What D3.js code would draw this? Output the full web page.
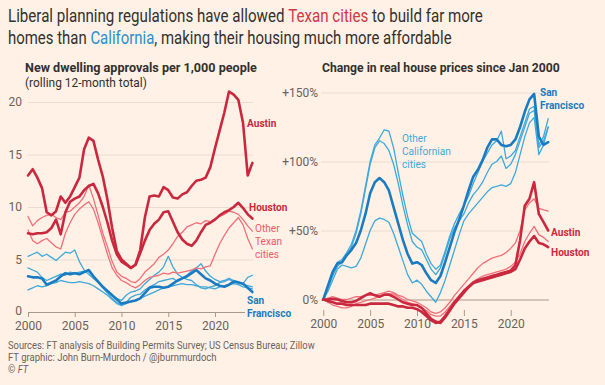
<!DOCTYPE html>
<html lang="en">
<head>
  <meta charset="UTF-8">
  <title>Texas vs California housing</title>
  <script src="https://cdn.jsdelivr.net/npm/d3@7"></script>
  <style>
    body { margin: 0; background: #fff1e5; }
    text { font-family: Roboto, "Liberation Sans", sans-serif; }
    .tick text { fill: #6b625b; font-size: 12px; }
  </style>
</head>
<body>
  <svg></svg>
  <script>
  // half-yearly time points
  var years = [2000, 2000.5, 2001, 2001.5, 2002, 2002.5, 2003, 2003.5, 2004, 2004.5,
    2005, 2005.5, 2006, 2006.5, 2007, 2007.5, 2008, 2008.5, 2009, 2009.5,
    2010, 2010.5, 2011, 2011.5, 2012, 2012.5, 2013, 2013.5, 2014, 2014.5,
    2015, 2015.5, 2016, 2016.5, 2017, 2017.5, 2018, 2018.5, 2019, 2019.5,
    2020, 2020.5, 2021, 2021.5, 2022, 2022.5, 2023, 2023.5, 2024];
  var xTicks = [2000, 2005, 2010, 2015, 2020];
  var permitTicks = [0, 5, 10, 15, 20];
  var priceTicks = [0, 50, 100, 150];

  // new dwelling approvals per 1,000 people
  var austinPermits = [13.0,13.6,12.8,11.8,9.5,9.2,9.6,11.0,10.4,11.0,11.9,12.8,15.5,16.6,16.3,14.5,12.9,10.7,8.0,5.8,5.0,4.6,4.2,4.5,5.9,9.0,11.0,11.1,11.0,11.9,11.6,10.9,10.8,11.2,11.4,12.0,12.5,12.6,12.8,13.8,15.6,17.3,19.0,21.0,20.7,20.2,18.0,13.0,14.2];
  var houstonPermits = [7.5,7.4,7.5,7.5,7.6,8.0,8.8,7.4,9.5,10.5,10.8,11.0,11.6,12.0,12.2,11.3,10.0,8.5,6.8,5.5,4.8,4.5,4.2,4.5,5.6,6.8,7.8,8.4,8.8,9.5,9.6,8.6,7.6,6.9,6.5,6.3,6.8,7.6,8.3,8.5,8.8,9.2,9.5,9.7,10.0,10.4,9.9,9.3,8.9];
  var texasAPermits = [9.1,8.2,8.7,9.0,9.2,9.3,9.0,8.8,9.5,9.6,10.0,10.4,11.0,12.1,10.8,9.2,7.5,6.2,4.8,3.8,3.4,3.2,2.9,2.8,3.2,3.8,4.2,4.6,5.2,5.5,5.9,6.5,7.2,7.6,8.1,8.3,8.5,8.4,8.7,8.6,8.9,9.1,9.3,9.6,9.5,9.3,8.8,8.2,7.7];
  var texasBPermits = [7.8,6.8,6.5,6.8,7.0,6.6,6.2,6.0,7.5,8.5,9.3,9.8,10.2,10.5,9.8,8.5,7.0,5.5,4.2,3.5,3.0,2.8,2.5,2.3,2.6,3.0,3.3,3.4,3.5,3.7,3.6,3.8,3.7,3.8,3.9,4.0,4.2,4.1,4.3,4.4,5.5,6.5,7.3,8.0,8.5,9.0,8.3,7.0,6.0];
  var sfPermits = [3.4,3.3,3.3,3.2,2.6,2.8,3.0,3.4,3.7,3.6,3.7,3.6,3.8,4.0,3.4,2.9,2.4,2.0,1.6,1.2,0.8,0.9,1.0,1.1,1.3,1.8,2.3,2.4,2.4,2.3,2.4,2.7,3.0,3.2,3.4,3.7,4.0,3.6,3.2,3.0,2.7,2.5,2.4,2.6,2.9,2.8,2.7,2.3,1.9];
  var calAPermits = [5.3,5.5,5.7,5.3,5.5,5.2,4.9,5.3,5.7,5.6,5.9,4.8,4.0,3.8,3.4,2.9,2.4,2.0,1.6,1.3,1.1,1.6,1.9,2.0,2.2,2.7,3.1,3.5,3.8,4.3,5.3,4.3,3.6,3.3,3.1,3.0,2.6,2.3,2.2,2.4,2.5,2.8,2.9,3.1,2.9,2.8,2.7,3.3,3.5];
  var calBPermits = [4.2,4.0,3.8,3.3,3.0,3.2,3.4,3.6,3.5,3.8,3.7,3.8,3.9,3.6,3.2,2.8,2.3,1.8,1.3,0.9,0.7,0.9,1.4,1.6,1.7,2.1,2.4,2.6,2.9,3.0,3.1,3.2,2.9,3.2,3.5,3.9,4.2,4.6,3.9,3.4,3.1,2.9,3.0,3.2,3.0,2.9,2.6,2.5,2.4];
  var calCPermits = [2.1,2.3,2.5,2.4,2.5,2.7,2.8,3.0,2.9,2.8,2.8,2.9,2.8,2.7,2.5,2.2,1.9,1.6,1.2,0.8,0.6,0.8,1.0,1.1,1.3,1.5,1.7,1.9,2.1,2.3,2.4,2.5,2.6,2.7,2.6,2.6,2.5,2.4,2.4,2.3,2.2,2.4,2.5,2.6,2.7,2.6,2.4,2.3,2.2];

  // change in real house prices since Jan 2000, %
  var sfPrices = [0,10,20,26,27,32,36,41,50,62,77,85,88,85,79,67,55,43,33,26,27,25,19,14,12,17,27,38,49,58,68,79,89,94,101,110,116,116,112,111,112,116,125,136,145,149,118,112,114];
  var calAPrices = [0,10,20,27,29,34,40,50,64,82,100,112,117,123,122,110,92,75,60,48,45,42,33,26,22,25,35,46,55,62,68,75,84,92,100,106,112,115,122,102,104,108,118,128,138,140,112,118,131];
  var calBPrices = [0,8,17,24,27,32,38,48,62,80,98,110,115,113,108,98,84,68,54,42,38,36,29,22,18,23,33,44,52,57,62,70,76,80,85,92,98,100,104,95,98,105,115,125,135,137,110,115,125];
  var calCPrices = [0,6,14,22,25,24,23,24,30,40,50,57,59,58,56,48,38,28,18,12,14,11,6,2,-2,5,14,25,36,47,57,62,66,70,74,78,81,82,83,82,84,92,105,118,128,132,105,112,125];
  var austinPrices = [0,0,0.5,0,-1,-2,-2,-1,1,3,4.5,3,2,3.5,3.5,2,0,-2,-3,-4,-4,-6,-10,-14,-16,-17,-13,-8,-3,1,5,9,12,14,15,16,17,18,19,20,21,25,43,68,73,85,62,56,50];
  var houstonPrices = [0,-1,-2,-3,-3,-4,-4,-4,-4,-4,-3,-3,-3,-3,-3,-4,-5,-5,-6,-6,-7,-9,-12,-15,-17,-16,-12,-7,-2,2,6,9,12,13,14,15,16,17,18,19,20,22,29,37,42,46,41,40,38];
  var texasAPrices = [0,1,2,1,0,0,1,2,2,3,3,3,4,5,6,5,3,2,0,-1,-2,-4,-6,-9,-10,-9,-6,-2,3,7,11,15,19,23,26,28,30,31,32,34,37,41,50,65,70,73,66,65,64];
  var texasBPrices = [0,-2,-4,-5,-6,-6,-5,-3,-2,-1,0,1,2,3,4,4,2,0,-2,-3,-4,-6,-8,-11,-12,-12,-9,-5,-1,3,7,10,13,15,17,18,19,20,21,22,24,27,33,42,48,53,47,45,42];

  var W = 605, H = 385;
  var RED = "#c9283f", PINK = "#f26f7a", BLUE = "#1b7bc2", LBLUE = "#3fa9dc";
  var INK = "#33302e", GREY = "#6b625b", GRID = "#eaddd0", AXIS = "#a8998b";

  var svg = d3.select("svg").attr("width", W).attr("height", H);
  svg.append("rect").attr("width", W).attr("height", H).attr("fill", "#fff1e5");

  // squeeze a text to a given width (FT font is narrower than what we have)
  function fit(t, x, y, w) {
    var n = t.node().getBBox().width;
    t.attr("transform", "translate(" + x + "," + y + ") scale(" + (w / n) + ",1)");
    return t;
  }
  // series label, one or more lines in a single text element
  function label(x, y, lines, color, weight) {
    var t = svg.append("text")
      .attr("transform", "translate(" + x + "," + y + ") scale(0.92,1)")
      .attr("fill", color).attr("font-weight", weight || "normal")
      .attr("font-size", 11);
    lines.forEach(function (s, i) {
      t.append("tspan").attr("x", 0).attr("dy", i ? 13 : 0).text(s);
    });
    return t;
  }

  // title
  var t1 = svg.append("text").attr("font-size", 18).attr("fill", INK);
  t1.append("tspan").text("Liberal planning regulations have allowed ");
  t1.append("tspan").attr("fill", "#d0374a").text("Texan cities");
  t1.append("tspan").text(" to build far more");
  fit(t1, 8, 22, 475);
  var t2 = svg.append("text").attr("font-size", 18).attr("fill", INK);
  t2.append("tspan").text("homes than ");
  t2.append("tspan").attr("fill", "#2b8fd0").text("California");
  t2.append("tspan").text(", making their housing much more affordable");
  fit(t2, 8, 44, 444);

  fit(svg.append("text").attr("font-size", 13).attr("font-weight", "bold").attr("fill", INK)
    .text("New dwelling approvals per 1,000 people"), 25, 72, 232);
  fit(svg.append("text").attr("font-size", 12).attr("fill", INK)
    .text("(rolling 12-month total)"), 25, 87, 122);
  fit(svg.append("text").attr("font-size", 13).attr("font-weight", "bold").attr("fill", INK)
    .text("Change in real house prices since Jan 2000"), 322, 72, 238);

  // footer
  fit(svg.append("text").attr("font-size", 10.5).attr("fill", GREY)
    .text("Sources: FT analysis of Building Permits Survey; US Census Bureau; Zillow"), 8, 349, 307);
  fit(svg.append("text").attr("font-size", 10.5).attr("fill", GREY)
    .text("FT graphic: John Burn-Murdoch / @jburnmurdoch"), 8, 361, 209);
  var cp = svg.append("text").attr("font-size", 10.5).attr("fill", GREY);
  cp.append("tspan").text("© ");
  cp.append("tspan").attr("font-style", "italic").text("FT");
  fit(cp, 8, 373, 21);

  var line = function (x, y) {
    return d3.line().x(function (d, i) { return x(years[i]); }).y(function (d) { return y(d); });
  };
  function drawSeries(g, x, y, list) {
    list.forEach(function (s) {
      g.append("path").datum(s.values)
        .attr("fill", "none").attr("stroke", s.color).attr("stroke-width", s.width)
        .attr("stroke-linejoin", "round").attr("stroke-linecap", "round")
        .attr("d", line(x, y));
    });
  }
  function styleTicks(g) {
    g.select(".domain").remove();
    g.selectAll(".tick line").attr("stroke", GRID);
    g.selectAll(".tick text").attr("font-family", "Roboto, sans-serif");
  }

  // ---- left chart ----
  var xL = d3.scaleLinear().domain([2000, 2024]).range([28, 252.4]);
  var yL = d3.scaleLinear().domain([0, 20]).range([312, 102]);
  var gl = svg.append("g");

  gl.append("g").attr("transform", "translate(28,0)")
    .call(d3.axisLeft(yL).tickValues(permitTicks).tickSize(-225).tickPadding(6))
    .call(styleTicks)
    .call(function (g) {
      var zero = g.selectAll(".tick").filter(function (d) { return d === 0; });
      zero.select("line").attr("stroke", AXIS).attr("x2", 217);
      zero.select("text").attr("dy", "0.2em");
    });
  gl.append("g").attr("transform", "translate(0,312)")
    .call(d3.axisBottom(xL).tickValues(xTicks).tickSize(5).tickPadding(4).tickFormat(d3.format("d")))
    .call(styleTicks)
    .call(function (g) { g.selectAll(".tick line").attr("stroke", AXIS); });

  drawSeries(gl, xL, yL, [
    { values: calCPermits, color: LBLUE, width: 1.3 },
    { values: calBPermits, color: LBLUE, width: 1.3 },
    { values: calAPermits, color: LBLUE, width: 1.3 },
    { values: sfPermits, color: BLUE, width: 2.6 },
    { values: texasBPermits, color: PINK, width: 1.3 },
    { values: texasAPermits, color: PINK, width: 1.3 },
    { values: houstonPermits, color: RED, width: 2.6 },
    { values: austinPermits, color: RED, width: 2.6 }
  ]);

  label(247, 127, ["Austin"], RED, "bold");
  label(249, 211, ["Houston"], RED, "bold");
  label(255, 232, ["Other", "Texan", "cities"], "#ee5a68");
  label(247, 304, ["San", "Francisco"], BLUE, "bold");

  // ---- right chart ----
  var xR = d3.scaleLinear().domain([2000, 2024]).range([323.3, 548.2]);
  var yR = d3.scaleLinear().domain([0, 150]).range([299.5, 92.5]);
  var gr = svg.append("g");

  gr.append("g").attr("transform", "translate(321,0)")
    .call(d3.axisLeft(yR).tickValues(priceTicks).tickSize(-228).tickPadding(3)
      .tickFormat(function (d) { return d === 0 ? "0%" : "+" + d + "%"; }))
    .call(styleTicks)
    .call(function (g) {
      g.selectAll(".tick").filter(function (d) { return d === 0; }).select("line").attr("stroke", AXIS);
    });
  gr.append("g").attr("transform", "translate(0,310)")
    .call(d3.axisBottom(xR).tickValues(xTicks).tickSize(6).tickPadding(3).tickFormat(d3.format("d")))
    .call(styleTicks)
    .call(function (g) { g.selectAll(".tick line").attr("stroke", AXIS); });

  drawSeries(gr, xR, yR, [
    { values: calCPrices, color: LBLUE, width: 1.3 },
    { values: calBPrices, color: LBLUE, width: 1.3 },
    { values: calAPrices, color: LBLUE, width: 1.3 },
    { values: sfPrices, color: BLUE, width: 2.6 },
    { values: texasBPrices, color: PINK, width: 1.3 },
    { values: texasAPrices, color: PINK, width: 1.3 },
    { values: houstonPrices, color: RED, width: 2.6 },
    { values: austinPrices, color: RED, width: 2.6 }
  ]);

  label(540, 96, ["San", "Francisco"], BLUE, "bold");
  label(402, 142, ["Other", "Californian", "cities"], LBLUE);
  label(551, 236, ["Austin"], RED, "bold");
  label(551, 256, ["Houston"], RED, "bold");
  </script>
</body>
</html>
